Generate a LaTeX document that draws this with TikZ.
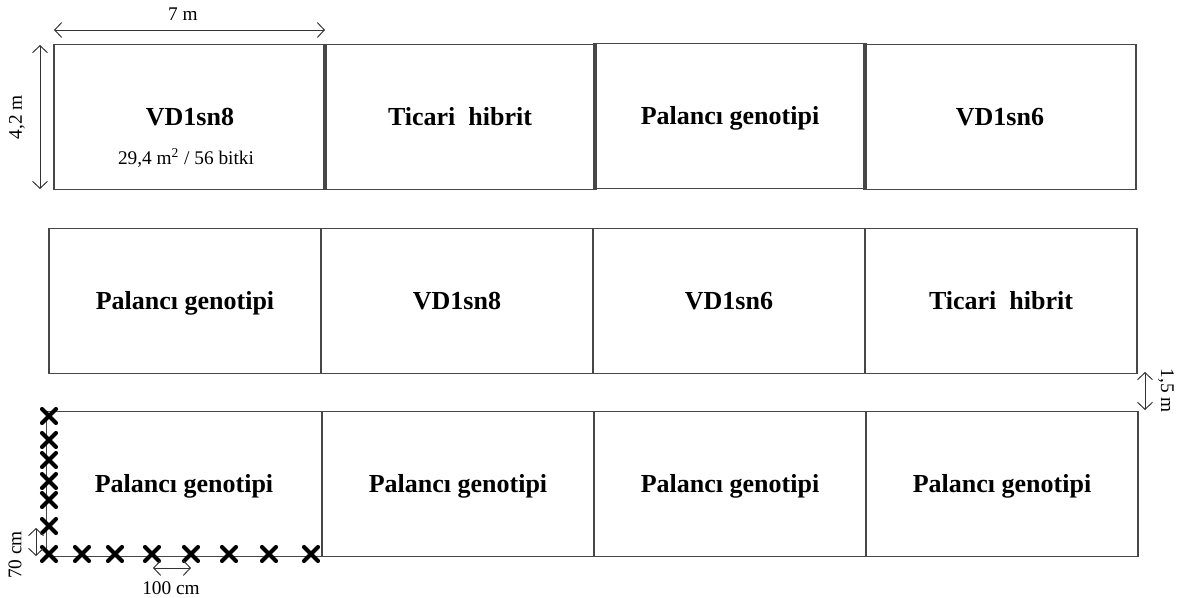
\documentclass[tikz,border=0pt]{standalone}
\usepackage{fontspec}
\setmainfont{Liberation Serif}
\usetikzlibrary{arrows.meta,shapes.misc}

\begin{document}
\begin{tikzpicture}[
  x=0.02cm, y=-0.02cm,
  plot/.style={draw=black!72, line width=0.75pt, minimum width=5.44cm, minimum height=2.9cm,
    inner sep=0pt, text height=2.2ex, text depth=0.1ex, font=\bfseries\fontsize{14.8}{17}\selectfont},
  plant/.style={cross out, draw=black, line width=2.4pt, line cap=round, minimum size=5.5pt, inner sep=0pt},
  dim/.style={{Straight Barb[length=4pt,width=8.5pt]}-{Straight Barb[length=4pt,width=8.5pt]}, line width=0.55pt, black!80},
  lbl/.style={font=\fontsize{11}{13}\selectfont, inner sep=1pt}
]
  \useasboundingbox (0,0) rectangle (1184,598);

  % first row
  \node[plot] (a1) at (190,117) {VD1sn8};
  \node[plot] (a2) at (460,117) {Ticari\ \ hibrit};
  \node[plot] (a3) at (730,116) {Palancı genotipi};
  \node[plot] (a4) at (1000,117) {VD1sn6};
  \node[lbl] (area) at (186,158) {29,4 m\textsuperscript{2} / 56 bitki};

  % second row
  \node[plot] (b1) at (185,301) {Palancı genotipi};
  \node[plot] (b2) at (457,301) {VD1sn8};
  \node[plot] (b3) at (729,301) {VD1sn6};
  \node[plot] (b4) at (1001,301) {Ticari\ \ hibrit};

  % third row
  \node[plot, minimum width=5.5cm] (c1) at (184,484) {Palancı genotipi};
  \node[plot] (c2) at (458,484) {Palancı genotipi};
  \node[plot] (c3) at (730,484) {Palancı genotipi};
  \node[plot] (c4) at (1002,484) {Palancı genotipi};

  % plants along the edges
  \foreach \y [count=\i] in {416,440,460,481,500,526} {
    \node[plant] (v\i) at (49,\y) {};
  }
  \foreach \x [count=\i] in {49,82,115,152,191,229,269,311} {
    \node[plant] (h\i) at (\x,554) {};
  }

  % dimensions
  \coordinate (w1) at (54,30);
  \coordinate (w2) at (325,30);
  \draw[dim] (w1) -- (w2);
  \node[lbl] (wl) at (183,14) {7 m};

  \coordinate (d1) at (40,45);
  \coordinate (d2) at (40,189);
  \draw[dim] (d1) -- (d2);
  \node[lbl, rotate=90] (dl) at (17,117) {4,2 m};

  \coordinate (g1) at (1145,372);
  \coordinate (g2) at (1145,410);
  \draw[dim] (g1) -- (g2);
  \node[lbl, rotate=-90] (gl) at (1166,391) {1,5 m};

  \coordinate (r1) at (36,528);
  \coordinate (r2) at (36,556);
  \draw[dim] (r1) -- (r2);
  \node[lbl, rotate=90] (rl) at (15,555) {70 cm};

  \coordinate (s1) at (153,568);
  \coordinate (s2) at (191,568);
  \draw[dim] (s1) -- (s2);
  \node[lbl] (sl) at (171,588) {100 cm};
\end{tikzpicture}
\end{document}
